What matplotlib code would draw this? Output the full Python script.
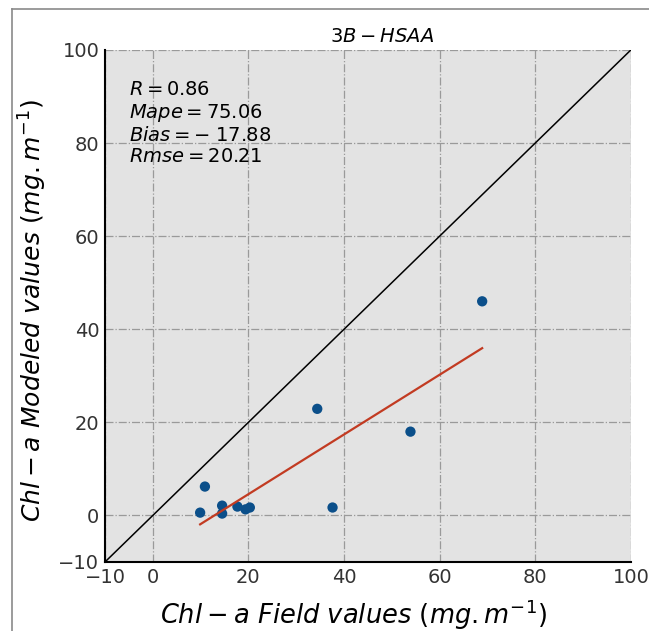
import numpy as np
import matplotlib as mpl

mpl.use("Agg")
import matplotlib.pyplot as plt  # noqa
from matplotlib.lines import Line2D  # noqa

# field vs modeled chl-a
field = [9.9, 10.9, 14.5, 14.5, 17.7, 19.4, 20.3, 34.4, 37.6, 53.9, 68.9]
modeled = [0.6, 6.2, 2.1, 0.4, 1.9, 1.3, 1.7, 22.9, 1.7, 18.0, 46.0]
stats = ['$R=0.86$', '$Mape=75.06$', '$Bias=-\\;17.88$', '$Rmse=20.21$']
ticks = [-10, 0, 20, 40, 60, 80, 100]


def main():
    fig = plt.figure(figsize=(6.49, 6.31), dpi=100)
    ax = fig.add_axes([0.1618, 0.1094, 0.8102, 0.8114])
    ax.set_facecolor('#e3e3e3')

    x = np.array(field)
    y = np.array(modeled)
    ax.plot([-10, 100], [-10, 100], color='black', lw=1.1, zorder=2)
    ax.scatter(x, y, s=55, color='#0b4f8a', edgecolors='none', zorder=3)
    a, b = np.polyfit(x, y, 1)
    xs = np.array([x.min(), x.max()])
    ax.plot(xs, a * xs + b, color='#c23b22', lw=1.6, zorder=4)

    ax.set_xlim(-10, 100)
    ax.set_ylim(-10, 100)
    ax.set_xticks(ticks)
    ax.set_yticks(ticks)
    ax.tick_params(length=0, labelsize=14, labelcolor='#333333', pad=4)
    ax.grid(True, color='#9a9a9a', ls='-.', lw=0.9)
    ax.set_axisbelow(True)
    for s in ('top', 'right'):
        ax.spines[s].set_visible(False)
    for s in ('left', 'bottom'):
        ax.spines[s].set_linewidth(1.5)

    ax.text(-5, 93.5, '\n'.join(stats), fontsize=14, va='top', ha='left',
            linespacing=1.15)
    ax.set_title('$3B-HSAA$', fontsize=14, x=0.527, pad=6)
    ax.set_xlabel('$Chl-a\\ Field\\ values\\ (mg.m^{-1})$', fontsize=18.5)
    ax.set_ylabel('$Chl-a\\ Modeled\\ values\\ (mg.m^{-1})$', fontsize=18)
    ax.xaxis.set_label_coords(0.472, -0.07)
    ax.yaxis.set_label_coords(-0.107, 0.49)

    # thin frame around the figure (top and left only)
    fig.add_artist(Line2D([12 / 649, 1], [1 - 9 / 631, 1 - 9 / 631],
                          color='#8a8a8a', lw=1.2, transform=fig.transFigure))
    fig.add_artist(Line2D([12 / 649, 12 / 649], [0, 1 - 9 / 631],
                          color='#8a8a8a', lw=1.2, transform=fig.transFigure))

    fig.savefig('out.png', dpi=100)


if __name__ == '__main__':
    main()
